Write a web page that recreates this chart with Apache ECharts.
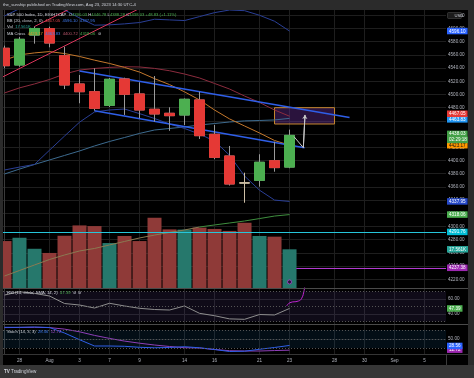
<!DOCTYPE html>
<html>
<head>
<meta charset="utf-8">
<script src="https://cdn.jsdelivr.net/npm/echarts@6/dist/echarts.min.js"></script>
<style>
    html, body {margin: 0; padding: 0; background: #2b2b2b;}
    #chart {width: 474px; height: 378px;}
</style>
</head>
<body>
<div id="chart"></div>
<script>
    // sessions (bars 0..19 have data, the rest is empty space to the right)
    var dates = ['Jul 27', 'Jul 28', 'Jul 31', 'Aug 1', 'Aug 2', 'Aug 3', 'Aug 4', 'Aug 7', 'Aug 8', 'Aug 9',
        'Aug 10', 'Aug 11', 'Aug 14', 'Aug 15', 'Aug 16', 'Aug 17', 'Aug 18', 'Aug 21', 'Aug 22', 'Aug 23',
        'Aug 24', 'Aug 25', 'Aug 28', 'Aug 29', 'Aug 30', 'Aug 31', 'Sep 1', 'Sep 4', 'Sep 5', 'Sep 6'];
    var tickDates = ['Jul 28', 'Aug 1', 'Aug 3', 'Aug 7', 'Aug 9', 'Aug 14', 'Aug 16', 'Aug 21', 'Aug 23', 'Aug 28', 'Aug 30', 'Sep 1', 'Sep 5'];
    var tickLabels = ['28', 'Aug', '3', '7', '9', '14', '16', '21', '23', '28', '30', 'Sep', '5'];
    var priceTicks = [4220, 4240, 4260, 4280, 4300, 4320, 4340, 4360, 4380, 4400, 4420, 4440, 4460, 4480, 4500, 4520, 4540, 4560, 4580, 4600, 4620];

    var open = [4570, 4544.7, 4590, 4599.7, 4558.8, 4515.9, 4504.2, 4483.6, 4523.5, 4500.8, 4477.6, 4471.5, 4468.9, 4491.7, 4439.7, 4406.8, 4366, 4370, 4399.7, 4390.03];
    var close = [4543.6, 4583.6, 4600, 4578, 4514.4, 4504.2, 4479.1, 4523, 4500.3, 4476.5, 4470.5, 4467.9, 4492.7, 4437.6, 4404.8, 4364.4, 4366, 4397.3, 4389.20, 4438.03];
    var low = [4540, 4542, 4577, 4571.5, 4508.3, 4486.7, 4475.5, 4481, 4469, 4464, 4458.8, 4445, 4453.8, 4432.6, 4402, 4362, 4336, 4360.3, 4383, 4388.28];
    var high = [4574, 4587, 4603, 4602.7, 4572.4, 4529.5, 4539.7, 4525, 4525.5, 4518.5, 4528, 4480.6, 4494, 4504.2, 4453.8, 4422, 4381.5, 4409.4, 4428.5, 4446.78];
    var volume = [21.3, 22.8, 17.8, 15.9, 23.7, 28.4, 28.1, 20.4, 23.6, 21.3, 31.9, 26.6, 26.5, 27.4, 26.8, 25.9, 29.6, 23.6, 23.3, 17.561];

    var bbUpper = [4619, 4630, 4638, 4637, 4628, 4616, 4605, 4605.5, 4607, 4609, 4614, 4613, 4612, 4618, 4624, 4628, 4627, 4620, 4611, 4596.10];
    var bbBasis = [4502.3, 4510, 4516, 4522.7, 4531, 4537, 4539.4, 4541, 4542, 4541.7, 4539.5, 4536, 4531, 4525, 4516.7, 4508.3, 4497.7, 4487.9, 4476.5, 4467.05];
    var bbLower = [4385.6, 4390, 4394, 4415.6, 4437, 4458, 4473.5, 4476.5, 4478, 4471, 4463.6, 4455.3, 4448.5, 4440, 4429.5, 4408, 4376.5, 4355, 4340, 4337.95];
    var maFast = [4552, 4560, 4563, 4565, 4562, 4557.6, 4552, 4547, 4541, 4534, 4524, 4515, 4504, 4491.7, 4476.5, 4463, 4452.3, 4441.7, 4430.3, 4423.17];
    var maMid = [4379.5, 4387, 4394, 4400.8, 4407.6, 4414.4, 4422, 4428.8, 4434.8, 4441, 4446.2, 4448.5, 4450.8, 4453.8, 4456, 4458.3, 4460, 4460.6, 4461.4, 4463.83];
    var maSlow = [4225, 4233.3, 4241.7, 4250, 4256.8, 4262.9, 4266.7, 4272, 4277.3, 4282.6, 4287, 4291, 4294.7, 4299.2, 4302.3, 4305.3, 4308.3, 4312, 4315.8, 4318.06];
    var rsi = [65.3, 69.7, 67.5, 64, 54, 52, 48, 54.3, 50.7, 47.6, 46, 45.3, 50.7, 40.9, 37.7, 33.5, 32.9, 39.3, 38.7, 47.39];
    var stochK = [89, 89, 90, 88.3, 70, 47.7, 26.7, 26.7, 25.7, 22.3, 20.7, 21.7, 24.3, 20.7, 15, 8.3, 9.3, 15.7, 21.7, 28.56];
    var stochD = [88, 88.5, 89, 88, 83, 74, 62, 52, 43, 36, 30, 25, 21, 20, 15, 11, 10, 10, 11.5, 12.72];

    // drawings: [bar index, price]
    var chanUpper = [[5, 4535.6], [23, 4465]];
    var chanLower = [[6, 4475.5], [20, 4419.4]];
    var riseLine = [[-1, 4516.6], [9, 4630.3]];
    var riseLine2 = [[2, 4603], [5, 4637]];
    var zone = [[18, 4480], [22, 4455.3]];
    var projPath = [[19.3, 4436], [19.92, 4419.4], [20.03, 4469]];
    var tealLevel = 4291.76;
    var purpleLevel = 4237.38, purpleStart = 19.45;
    var alertPoint = [[19, 4216]];
    var rsiCurve = [[18.81, 50.7], [19.03, 55.1], [19.59, 57.3], [19.81, 60.9], [19.97, 71.3], [20.02, 78]];
    var countdown = '02:29:18';

    var upColor = '#4caf50', downColor = '#e53935', wickColor = '#9a9a9a', dojiColor = '#cdbfa6';
    var volUp = '#26786c', volDown = '#8f3a38';
    var font = 'Liberation Sans';
    var axisText = '#b2b5be', gridColor = '#1e1e1e';
    var xMin = -0.1, xMax = 29.43;
    var last = close.length - 1;
    var hidden = {color: 'rgba(0,0,0,0)', width: 0};

    var tickIdx = tickDates.map(function (d) { return dates.indexOf(d); });

    function pts(arr) {
        return arr.map(function (v, i) { return [i, v]; });
    }

    function tagLabel(text, bg, fg, shift) {
        var pad = [0, 0, 0, 0];
        if (shift > 0) pad = [2 * shift, 0, 0, 0];
        if (shift < 0) pad = [0, 0, -2 * shift, 0];
        var parts = text.split('\n').map(function (t) { return '{t|' + t + '}'; }).join('\n');
        return {
            show: true, position: 'end', distance: 1, padding: pad, formatter: parts,
            rich: {t: {backgroundColor: bg, color: fg || '#fff', fontSize: 4.6, fontFamily: font, padding: [1, 2, 0.5, 2], lineHeight: 6}}
        };
    }

    function tag(value, text, bg, fg, shift, lineStyle) {
        return {yAxis: value, lineStyle: lineStyle || hidden, label: tagLabel(text, bg, fg, shift || 0)};
    }

    function xAx(i, labels) {
        return {
            type: 'value', gridIndex: i, min: xMin, max: xMax,
            axisLine: {show: false},
            axisTick: {show: false, customValues: tickIdx},
            axisLabel: {
                show: labels, customValues: tickIdx, color: axisText, fontSize: 4.6, fontFamily: font, margin: 4,
                formatter: function (v) { var k = tickIdx.indexOf(v); return k >= 0 ? tickLabels[k] : ''; }
            },
            splitLine: {show: true, lineStyle: {color: gridColor, width: 1}}
        };
    }

    function yAx(i, min, max, ticks) {
        return {
            type: 'value', gridIndex: i, position: 'right', min: min, max: max,
            axisLine: {show: true, lineStyle: {color: '#3a3a3a'}},
            axisTick: {show: false, customValues: ticks},
            axisLabel: {customValues: ticks, color: axisText, fontSize: 4.6, fontFamily: font, margin: 2,
                formatter: function (v) { return v.toFixed(2); }},
            splitLine: {show: true, lineStyle: {color: gridColor, width: 1}}
        };
    }

    function line(data, color, width, z, extra) {
        var s = {type: 'line', xAxisIndex: 0, yAxisIndex: 0, data: data, symbol: 'none', silent: true,
            lineStyle: {color: color, width: width}, z: z};
        for (var k in extra) s[k] = extra[k];
        return s;
    }

    var candleData = open.map(function (o, i) { return [i, o, close[i], low[i], high[i]]; });
    var bodyData = open.map(function (o, i) { return [i, o, close[i], Math.min(o, close[i]), Math.max(o, close[i])]; });
    var volData = volume.map(function (v, i) {
        return {value: [i, v], itemStyle: {color: close[i] > open[i] ? volUp : volDown}};
    });

    var option = {
        backgroundColor: '#000000',
        animation: false,
        grid: [
            {left: 3, right: 28, top: 10, height: 278},
            {left: 3, right: 28, top: 288, height: 36},
            {left: 3, right: 28, top: 324, height: 30}
        ],
        xAxis: [xAx(0, false), xAx(1, false), xAx(2, true)],
        yAxis: [
            yAx(0, 4206.8, 4628, priceTicks),
            {type: 'value', gridIndex: 0, min: 0, max: 126.15, show: false, splitLine: {show: false}},
            yAx(1, 26.67, 74.67, [40, 60]),
            yAx(2, 0, 100, [50])
        ],
        series: [
            {
                type: 'bar', xAxisIndex: 0, yAxisIndex: 1, barWidth: 14, z: 1, silent: true, data: volData,
                markLine: {symbol: ['none', 'none'], silent: true, data: [tag(volume[last], volume[last].toFixed(3) + 'K', '#26a69a')]}
            },
            line(pts(bbLower), 'rgba(0,0,0,0)', 0, 2, {stack: 'bb'}),
            line(pts(bbUpper.map(function (v, i) { return v - bbLower[i]; })), 'rgba(0,0,0,0)', 0, 2, {
                stack: 'bb', areaStyle: {color: 'rgba(33,150,243,0.05)'},
                markArea: {silent: true, itemStyle: {color: 'rgba(110,50,160,0.38)', borderColor: '#c8892e', borderWidth: 1},
                    data: [[{coord: zone[0]}, {coord: zone[1]}]]}
            }),
            line(pts(maSlow.slice(0, 14)), '#8a7a52', 1, 3),
            line(pts(maSlow).slice(13), '#3f8f3f', 1, 3),
            line(pts(maMid), '#3d6b8f', 1, 3),
            line(pts(bbLower), '#2a3f96', 1, 3),
            line(pts(bbUpper), '#2a3f96', 1, 3),
            line(pts(bbBasis), '#8c2c3e', 1, 3),
            line(pts(maFast), '#c4782c', 1, 3),
            line(riseLine, '#d9345a', 1, 4),
            line(riseLine2, '#d9345a', 1, 4),
            line(chanUpper, '#2f5fe8', 1.5, 4),
            line(chanLower, '#2f5fe8', 1.5, 4),
            {
                type: 'candlestick', xAxisIndex: 0, yAxisIndex: 0, barWidth: 11, z: 5, silent: true, data: candleData,
                itemStyle: {color: wickColor, color0: wickColor, borderColor: wickColor, borderColor0: wickColor, borderColorDoji: dojiColor, borderWidth: 1}
            },
            {
                type: 'candlestick', xAxisIndex: 0, yAxisIndex: 0, barWidth: 11, z: 6, silent: true, data: bodyData,
                itemStyle: {color: upColor, color0: downColor, borderColor: upColor, borderColor0: downColor, borderColorDoji: dojiColor, borderWidth: 1}
            },
            line(projPath, '#c8c8c8', 1, 7, {
                markLine: {silent: true, symbol: ['none', 'arrow'], symbolSize: 4,
                    lineStyle: {color: '#c8c8c8', width: 1, type: 'solid'}, label: {show: false},
                    data: [[{coord: projPath[1]}, {coord: projPath[2]}]]}
            }),
            {
                type: 'scatter', xAxisIndex: 0, yAxisIndex: 0, data: alertPoint, symbol: 'circle', symbolSize: 4, z: 7, silent: true,
                itemStyle: {color: '#1a0020', borderColor: '#b23ad0', borderWidth: 1}
            },
            // price scale tags and horizontal levels
            line([], 'rgba(0,0,0,0)', 0, 20, {
                markLine: {
                    symbol: ['none', 'none'], silent: true,
                    data: [
                        tag(tealLevel, tealLevel.toFixed(2), '#00bcd4', '#fff', 0, {color: '#26c6da', width: 1, type: 'solid'}),
                        [{coord: [purpleStart, purpleLevel], lineStyle: {color: '#b23ad0', width: 1, type: 'solid'},
                            label: tagLabel(purpleLevel.toFixed(2), '#9c27b0', '#fff', 0)},
                            {coord: [xMax - 0.001, purpleLevel]}],
                        tag(maSlow[last], maSlow[last].toFixed(2), '#4caf50'),
                        tag(bbLower[last], bbLower[last].toFixed(2), '#2548c8'),
                        tag(maFast[last], maFast[last].toFixed(2), '#ff9800', '#111'),
                        tag(close[last], close[last].toFixed(2) + '\n' + countdown, '#43a047', '#fff', 1.5),
                        tag(maMid[last], maMid[last].toFixed(2), '#2196f3', '#fff', 1),
                        tag(bbBasis[last], bbBasis[last].toFixed(2), '#e53935', '#fff', -2.5),
                        tag(bbUpper[last], bbUpper[last].toFixed(2), '#2962ff')
                    ]
                }
            }),
            // RSI pane
            {
                type: 'line', xAxisIndex: 1, yAxisIndex: 2, data: pts(rsi), symbol: 'none', silent: true, z: 3,
                lineStyle: {color: '#8e8e8e', width: 1},
                markArea: {silent: true, itemStyle: {color: 'rgba(126,87,194,0.12)'}, data: [[{yAxis: 70}, {yAxis: 30}]]},
                markLine: {symbol: ['none', 'none'], silent: true,
                    lineStyle: {color: '#555', width: 1, type: [1, 2]}, label: {show: false},
                    data: [{yAxis: 70}, {yAxis: 50}, {yAxis: 30}, tag(rsi[last], rsi[last].toFixed(2), '#4caf50')]}
            },
            {
                type: 'line', xAxisIndex: 1, yAxisIndex: 2, data: rsiCurve, symbol: 'none', silent: true, z: 4, smooth: true,
                lineStyle: {color: '#c026d3', width: 1}
            },
            // Stoch pane
            {
                type: 'line', xAxisIndex: 2, yAxisIndex: 3, data: pts(stochD), symbol: 'none', silent: true, z: 3,
                lineStyle: {color: '#8e3fb8', width: 1},
                markArea: {silent: true, itemStyle: {color: 'rgba(33,150,243,0.09)'}, data: [[{yAxis: 80}, {yAxis: 20}]]},
                markLine: {symbol: ['none', 'none'], silent: true,
                    lineStyle: {color: '#555', width: 1, type: [1, 2]}, label: {show: false},
                    data: [{yAxis: 80}, {yAxis: 50}, {yAxis: 20}, tag(stochD[last], stochD[last].toFixed(2), '#9c27b0', '#fff', -0.5)]}
            },
            {
                type: 'line', xAxisIndex: 2, yAxisIndex: 3, data: pts(stochK), symbol: 'none', silent: true, z: 4,
                lineStyle: {color: '#2f5fe8', width: 1},
                markLine: {symbol: ['none', 'none'], silent: true,
                    data: [tag(stochK[last], stochK[last].toFixed(2), '#2962ff', '#fff', 0.5)]}
            }
        ],
        graphic: []
    };

    function txt(x, y, text, rich, z) {
        return {type: 'text', x: x, y: y, z: z || 101, silent: true,
            style: {text: text, rich: rich, fill: '#d1d4dc', fontSize: 4.2, fontFamily: font, verticalAlign: 'middle'}};
    }
    function rect(x, y, w, h, fill, z) {
        return {type: 'rect', silent: true, z: z || 100, shape: {x: x, y: y, width: w, height: h}, style: {fill: fill}};
    }
    function hline(x1, x2, y, color) {
        return {type: 'line', silent: true, z: 100, shape: {x1: x1, y1: y, x2: x2, y2: y}, style: {stroke: color, lineWidth: 1}};
    }

    var rich = {
        n: {fill: '#d1d4dc', fontSize: 4.2, fontFamily: font},
        v: {fill: '#4caf50', fontSize: 4.2, fontFamily: font},
        r: {fill: '#e5484d', fontSize: 4.2, fontFamily: font},
        b: {fill: '#3f7bf0', fontSize: 4.2, fontFamily: font},
        t: {fill: '#26a69a', fontSize: 4.2, fontFamily: font},
        o: {fill: '#e0922e', fontSize: 4.2, fontFamily: font},
        m: {fill: '#b5556a', fontSize: 4.2, fontFamily: font},
        p: {fill: '#a24bd0', fontSize: 4.2, fontFamily: font}
    };
    var chg = close[last] - close[last - 1];
    option.graphic = [
        rect(0, 0, 474, 10, '#2b2b2b'),
        rect(0, 0, 3, 378, '#2b2b2b'),
        rect(468, 0, 6, 378, '#2b2b2b'),
        rect(0, 365, 474, 13, '#363636'),
        hline(3, 468, 288.5, '#4a4a4a'),
        hline(3, 468, 324.5, '#4a4a4a'),
        hline(3, 468, 354.5, '#353535'),
        {type: 'line', silent: true, z: 100, shape: {x1: 446.5, y1: 354, x2: 446.5, y2: 365}, style: {stroke: '#3a3a3a', lineWidth: 1}},
        {type: 'rect', silent: true, z: 102, shape: {x: 447.5, y: 12.5, width: 14, height: 6, r: 1}, style: {fill: '#1b1b1b', stroke: '#555', lineWidth: 0.5}},
        txt(454.5, 15.6, 'USD', null, 103),
        txt(3, 5, 'the_sunship published on TradingView.com, Aug 23, 2023 14:30 UTC-4'),
        txt(7, 14.5, '{n|S&P 500 Index, 1D, EIGHTCAP  O}{v|' + open[last].toFixed(2) + '} {n|H}{v|' + high[last].toFixed(2) +
            '} {n|L}{v|' + low[last].toFixed(2) + '} {n|C}{v|' + close[last].toFixed(2) + '} {v|+' + chg.toFixed(2) +
            ' (+' + (chg / close[last - 1] * 100).toFixed(2) + '%)}', rich),
        txt(7, 21, '{n|BB (20, close, 2, 0)}  {r|' + bbBasis[last].toFixed(2) + '}  {b|' + bbUpper[last].toFixed(2) + '}  {b|' + bbLower[last].toFixed(2) + '}', rich),
        txt(7, 27.3, '{n|Vol}  {t|' + volume[last].toFixed(3) + 'K}', rich),
        txt(7, 33.5, '{n|MA Cross}  {o|' + maFast[last].toFixed(2) + '}  {b|' + maMid[last].toFixed(2) + '}  {m|4400.72}  {v|' + maSlow[last].toFixed(2) + '}  {n|\u2298}', rich),
        txt(7, 292.8, '{n|RSI (14, close, SMA, 14, 2)}  {v|' + rsi[last].toFixed(2) + '}  {n|\u2298  \u2298}', rich),
        txt(7, 331.5, '{n|Stoch (14, 3, 3)}  {b|' + stochK[last].toFixed(2) + '}  {p|' + stochD[last].toFixed(2) + '}', rich),
        txt(4, 371.5, '{k|TV} {n|TradingView}', {
            k: {fill: '#d1d4dc', fontSize: 4.6, fontWeight: 'bold', fontFamily: font},
            n: {fill: '#d1d4dc', fontSize: 4.6, fontFamily: font}
        })
    ];

    var mychart = echarts.init(document.getElementById('chart'));
    mychart.setOption(option);
</script>
</body>
</html>
